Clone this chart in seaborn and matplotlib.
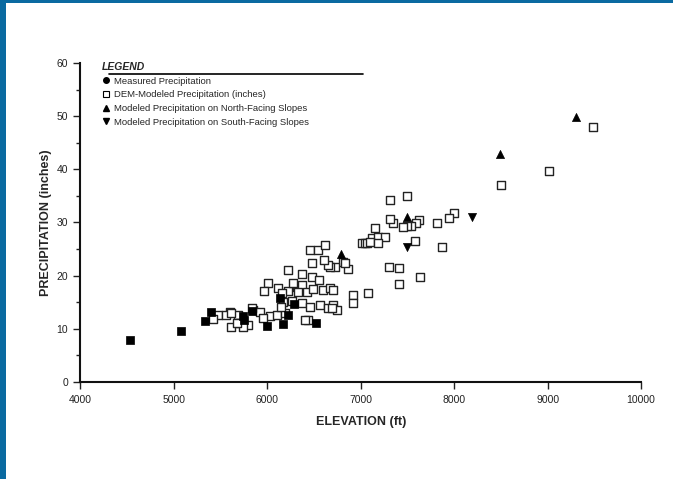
import numpy as np
import seaborn as sns
import matplotlib.pyplot as plt
import pandas as pd
from matplotlib.lines import Line2D
from matplotlib.patches import Rectangle

# measured precipitation (filled squares)
meas_elev = [4530, 5075, 5330, 5395, 5740, 5750, 5835, 5995, 6135, 6165, 6220, 6285, 6520]
meas_prec = [7.9, 9.6, 11.5, 13.2, 12.4, 11.7, 13.4, 10.5, 15.8, 10.9, 12.6, 14.7, 11.1]

# DEM-modeled precipitation (open squares)
dem_elev = [9490, 9010, 8500, 8000, 7940, 7870, 7820, 7625, 7590, 7535, 7490, 7450,
            7345, 7310, 7310, 7490, 7150, 7120, 7185, 7260, 7010, 7045, 7070, 7100,
            7185, 7580, 7630, 7410, 7300, 7410, 6915, 6915, 7080,
            6810, 6725, 6670, 6860, 6830, 6645, 6605, 6475, 6455, 6540, 6615, 6220,
            6370, 6475, 6550, 6005, 5965, 6115, 6220, 6315, 6370, 6325, 6425, 6490,
            6595, 6670, 6700, 6165, 6260, 6370, 6455, 6560, 6645, 6700, 6745, 6690,
            6435, 6400,
            5600, 5685, 5845, 5920, 6025, 6100, 6185, 5705, 5790, 5950, 5740, 5835,
            5470, 5555, 5610, 5415, 5610, 5675, 6150, 6155, 6280]
dem_prec = [48.0, 39.7, 37.0, 31.8, 30.8, 25.4, 29.9, 30.5, 29.9, 29.3, 29.3, 29.2,
            29.9, 30.7, 34.2, 35.0, 29.0, 27.1, 27.3, 27.3, 26.1, 26.1, 26.1, 26.3,
            26.1, 26.5, 19.7, 18.4, 21.6, 21.4, 16.4, 14.9, 16.7,
            22.6, 21.6, 21.6, 21.3, 22.4, 22.0, 22.9, 22.4, 24.8, 24.8, 25.8, 21.1,
            20.3, 19.7, 19.2, 18.6, 17.1, 17.7, 17.1, 17.9, 18.2, 16.9, 16.9, 17.5,
            17.3, 17.7, 17.3, 15.0, 15.2, 14.9, 14.1, 14.5, 13.9, 14.5, 13.5, 13.9,
            11.7, 11.7,
            13.2, 12.6, 13.5, 13.2, 12.4, 12.6, 13.0, 11.1, 10.7, 12.0, 10.3, 13.9,
            12.6, 12.6, 13.0, 11.8, 10.3, 11.1, 14.1, 16.7, 18.6]

# modeled, north-facing slopes
north_elev = [6785, 7490, 8490, 9300]
north_prec = [24.1, 31.0, 42.9, 49.8]

# modeled, south-facing slopes
south_elev = [7490, 8195]
south_prec = [25.4, 31.0]

legend_labels = ["Measured Precipitation",
                 "DEM-Modeled Precipitation (inches)",
                 "Modeled Precipitation on North-Facing Slopes",
                 "Modeled Precipitation on South-Facing Slopes"]

sns.set_style("ticks")
plt.rcParams['font.family'] = ['Liberation Sans', 'DejaVu Sans']

fig = plt.figure(figsize=(6.73, 4.79), dpi=100)
ax = fig.add_axes([0.1196, 0.2025, 0.8329, 0.666])

# blue frame of the scanned page
fig.add_artist(Rectangle((0, 0), 6 / 673, 1, transform=fig.transFigure, color='#0a6aa1', lw=0))
fig.add_artist(Rectangle((0, 1 - 3 / 479), 1, 3 / 479, transform=fig.transFigure, color='#0a6aa1', lw=0))

sns.scatterplot(x=dem_elev, y=dem_prec, marker='s', s=36, facecolor='white',
                edgecolor='#222222', linewidth=1.0, ax=ax, zorder=2)
sns.scatterplot(x=meas_elev, y=meas_prec, marker='s', s=38, color='black',
                edgecolor='black', linewidth=0.5, ax=ax, zorder=3)
sns.scatterplot(x=north_elev, y=north_prec, marker='^', s=34, color='black',
                edgecolor='black', linewidth=0.5, ax=ax, zorder=3)
sns.scatterplot(x=south_elev, y=south_prec, marker='v', s=34, color='black',
                edgecolor='black', linewidth=0.5, ax=ax, zorder=3)

ax.set_xlim(4000, 10000)
ax.set_ylim(0, 60)
ax.set_xticks(np.arange(4000, 10001, 1000))
ax.set_yticks(np.arange(0, 61, 10))
ax.set_yticks(np.arange(5, 60, 10), minor=True)
ax.tick_params(axis='both', which='major', direction='out', length=5, width=1,
               labelsize=7.5, color='#222222', labelcolor='#222222', pad=4)
ax.tick_params(axis='y', which='minor', direction='out', length=3, width=1, color='#222222')
for side in ['top', 'right']:
    ax.spines[side].set_visible(False)
for side in ['left', 'bottom']:
    ax.spines[side].set_linewidth(1.5)
    ax.spines[side].set_color('#111111')

ax.set_xlabel("ELEVATION (ft)", fontsize=9, fontweight='bold', labelpad=8)
ax.set_ylabel("PRECIPITATION (inches)", fontsize=9, fontweight='bold', labelpad=3)

handles = [Line2D([], [], marker='o', ls='', color='black', markersize=4),
           Line2D([], [], marker='s', ls='', markerfacecolor='white', markeredgecolor='black',
                  markersize=5, markeredgewidth=0.8),
           Line2D([], [], marker='^', ls='', color='black', markersize=4.5),
           Line2D([], [], marker='v', ls='', color='black', markersize=4.5)]
leg = ax.legend(handles, legend_labels, loc='upper left', bbox_to_anchor=(98 / 673, 1 - 58 / 479),
                bbox_transform=fig.transFigure, frameon=False, fontsize=6.8,
                handlelength=0.8, handletextpad=0.5, labelspacing=0.5, borderaxespad=0,
                title="LEGEND", alignment='left',
                title_fontproperties={'weight': 'bold', 'style': 'italic', 'size': 7.5})
fig.add_artist(Line2D([109 / 673, 363 / 673], [1 - 73.5 / 479, 1 - 73.5 / 479],
                      transform=fig.transFigure, color='black', lw=1.2))

fig.savefig("out.png", dpi=100)
